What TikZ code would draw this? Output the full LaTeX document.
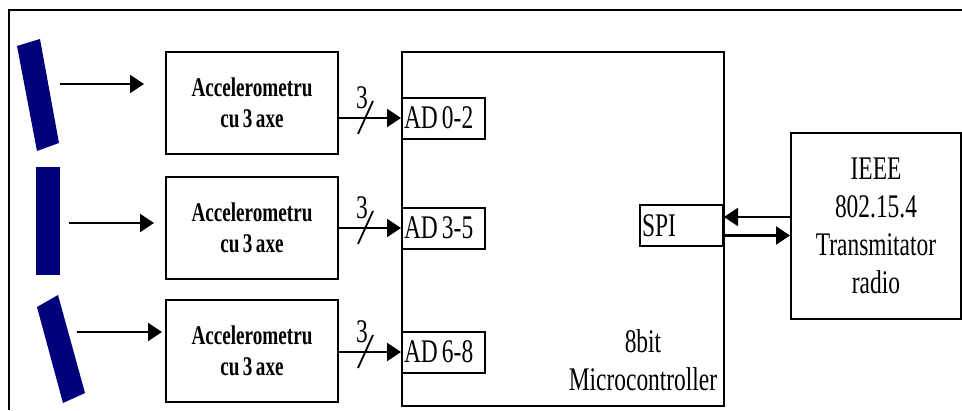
\documentclass[tikz,border=0pt]{standalone}
\usepackage{fontspec}
\setmainfont[FakeStretch=0.71, WordSpace=0.71]{Liberation Serif}
\usepackage{tikz}
\usetikzlibrary{
arrows.meta,
positioning,
calc
}
\definecolor{sensorblue}{RGB}{0,0,122}

\begin{document}
\begin{tikzpicture}[
  x=1pt, y=-1pt,
  >={Triangle[length=14pt, width=18pt]},
  every node/.style={font=\fontsize{33}{38}\selectfont},
  accbox/.style={draw, line width=2pt,
                 minimum width=172pt, minimum height=102pt,
                 align=center, font=\fontsize{27}{31}\selectfont\bfseries},
  port/.style={draw, line width=2pt, fill=white,
               minimum height=41pt, inner sep=2pt,
               text width=79pt, align=flush left},
  arrow/.style={->, line width=2.2pt},
  slash/.style={line width=1.8pt}
]

\useasboundingbox (0,0) rectangle (962,410);

%% Outer frame
\draw[line width=2.4pt] (9,410) -- (9,10) -- (962,10);

%% Sensors
\fill[sensorblue] (17,46) -- (40,39) -- (59,143) -- (37,151) -- cycle;
\fill[sensorblue] (36,167) rectangle (60,275);
\fill[sensorblue] (37,307) -- (58,295) -- (85,393) -- (63,403) -- cycle;

%% Accelerometers
\node[accbox] (acc1) at (252,103) {Accelerometru\\cu 3 axe};
\node[accbox] (acc2) at (252,227.5) {Accelerometru\\cu 3 axe};
\node[accbox] (acc3) at (252,351) {Accelerometru\\cu 3 axe};

%% Microcontroller
\node[draw, line width=2pt, minimum width=322pt, minimum height=354pt]
  (mcu) at (563,229) {};
\node[align=center] (mcuname) at (643,360) {8bit\\Microcontroller};

%% Ports
\node[port] (ad1) at (443.5,118) {AD 0-2};
\node[port] (ad2) at (443.5,228) {AD 3-5};
\node[port] (ad3) at (443.5,352) {AD 6-8};
\node[port] (spi) at (681.5,225.5) {SPI};

%% Radio
\node[draw, line width=2pt, minimum width=170pt, minimum height=186pt,
      align=center]
  (radio) at (876,226) {IEEE\\802.15.4\\Transmitator\\radio};

%% Sensor arrows
\coordinate (s1) at (60,84);
\coordinate (s2) at (69,223);
\coordinate (s3) at (77,332);
\draw[arrow, shorten >=21pt] (s1) -- (s1 -| acc1.west);
\draw[arrow, shorten >=11pt] (s2) -- (s2 -| acc2.west);
\draw[arrow, shorten >=3pt]  (s3) -- (s3 -| acc3.west);

%% 3-bit buses
\draw[arrow] (acc1.east |- ad1.west) -- (ad1.west);
\draw[slash] ($(ad1.west)+(-43,16)$) -- ++(15,-33);
\node (n1) at ($(ad1.west)+(-39,-20)$) {3};

\draw[arrow] (acc2.east |- ad2.west) -- (ad2.west);
\draw[slash] ($(ad2.west)+(-43,16)$) -- ++(15,-33);
\node (n2) at ($(ad2.west)+(-39,-20)$) {3};

\draw[arrow] (acc3.east |- ad3.west) -- (ad3.west);
\draw[slash] ($(ad3.west)+(-43,16)$) -- ++(15,-33);
\node (n3) at ($(ad3.west)+(-39,-20)$) {3};

%% SPI link
\draw[arrow] ([yshift=9pt]radio.west) -- ([yshift=9pt]radio.west -| spi.east);
\draw[arrow] ([yshift=-10pt]spi.east) -- ([yshift=-10pt]spi.east -| radio.west);

\end{tikzpicture}
\end{document}
